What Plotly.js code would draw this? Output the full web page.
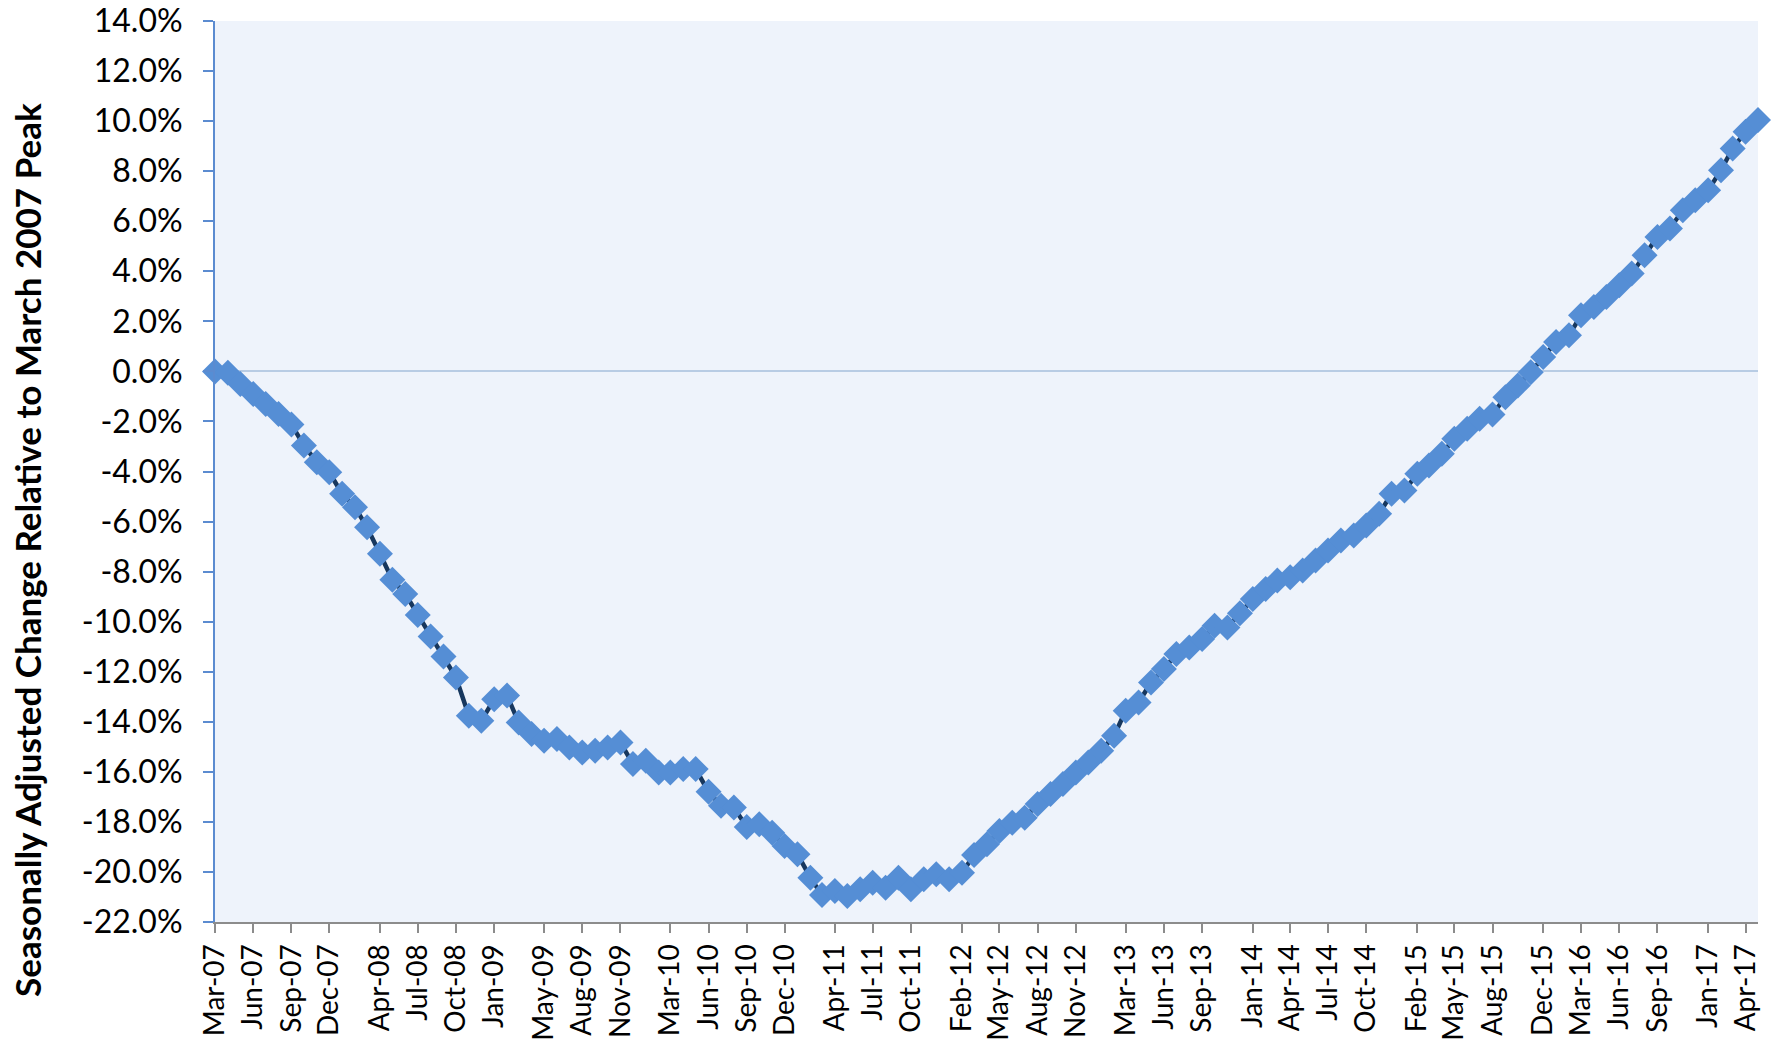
<!DOCTYPE html>
<html>
<head>
<meta charset="utf-8">
<script src="https://cdn.plot.ly/plotly-3.0.1.min.js"></script>
<style>html,body{margin:0;padding:0;background:#fff;}#chart{width:1777px;height:1042px;}</style>
</head>
<body>
<div id="chart"></div>
<script>
// Months (Mar-2007 .. May-2017)
const months = [
  "2007-03","2007-04","2007-05","2007-06","2007-07","2007-08","2007-09","2007-10","2007-11","2007-12",
  "2008-01","2008-02","2008-03","2008-04","2008-05","2008-06","2008-07","2008-08","2008-09","2008-10","2008-11","2008-12",
  "2009-01","2009-02","2009-03","2009-04","2009-05","2009-06","2009-07","2009-08","2009-09","2009-10","2009-11","2009-12",
  "2010-01","2010-02","2010-03","2010-04","2010-05","2010-06","2010-07","2010-08","2010-09","2010-10","2010-11","2010-12",
  "2011-01","2011-02","2011-03","2011-04","2011-05","2011-06","2011-07","2011-08","2011-09","2011-10","2011-11","2011-12",
  "2012-01","2012-02","2012-03","2012-04","2012-05","2012-06","2012-07","2012-08","2012-09","2012-10","2012-11","2012-12",
  "2013-01","2013-02","2013-03","2013-04","2013-05","2013-06","2013-07","2013-08","2013-09","2013-10","2013-11","2013-12",
  "2014-01","2014-02","2014-03","2014-04","2014-05","2014-06","2014-07","2014-08","2014-09","2014-10","2014-11","2014-12",
  "2015-01","2015-02","2015-03","2015-04","2015-05","2015-06","2015-07","2015-08","2015-09","2015-10","2015-11","2015-12",
  "2016-01","2016-02","2016-03","2016-04","2016-05","2016-06","2016-07","2016-08","2016-09","2016-10","2016-11","2016-12",
  "2017-01","2017-02","2017-03","2017-04","2017-05"
];

// Seasonally adjusted change relative to March 2007 peak (%)
const changePct = [
  0.00,-0.05,-0.50,-0.90,-1.30,-1.70,-2.12,-2.96,-3.63,-4.03,
  -4.89,-5.43,-6.23,-7.29,-8.33,-8.89,-9.73,-10.59,-11.39,-12.23,-13.76,-13.96,
  -13.10,-12.95,-14.03,-14.49,-14.76,-14.69,-15.03,-15.23,-15.16,-15.03,-14.83,-15.69,
  -15.56,-16.03,-16.03,-15.89,-15.89,-16.80,-17.36,-17.43,-18.20,-18.09,-18.43,-18.96,
  -19.29,-20.23,-20.92,-20.76,-20.96,-20.69,-20.43,-20.63,-20.23,-20.69,-20.29,-20.09,
  -20.29,-20.03,-19.32,-18.89,-18.36,-18.03,-17.83,-17.29,-16.89,-16.49,-16.03,-15.63,
  -15.16,-14.56,-13.56,-13.23,-12.43,-11.89,-11.29,-11.03,-10.69,-10.16,-10.23,-9.66,
  -9.09,-8.69,-8.36,-8.23,-7.96,-7.56,-7.16,-6.76,-6.56,-6.16,-5.69,-4.89,
  -4.76,-4.09,-3.76,-3.29,-2.69,-2.29,-1.89,-1.72,-1.03,-0.56,-0.03,0.57,
  1.17,1.44,2.24,2.57,2.97,3.44,3.91,4.64,5.37,5.71,6.44,6.84,
  7.24,8.04,8.91,9.57,10.04
];

// X tick labels shown on the axis
const xTickLabels = [
  "Mar-07","Jun-07","Sep-07","Dec-07","Apr-08","Jul-08","Oct-08","Jan-09","May-09","Aug-09",
  "Nov-09","Mar-10","Jun-10","Sep-10","Dec-10","Apr-11","Jul-11","Oct-11","Feb-12","May-12",
  "Aug-12","Nov-12","Mar-13","Jun-13","Sep-13","Jan-14","Apr-14","Jul-14","Oct-14","Feb-15",
  "May-15","Aug-15","Dec-15","Mar-16","Jun-16","Sep-16","Jan-17","Apr-17"
];

// Y tick values and labels
const yTickVals = [-22,-20,-18,-16,-14,-12,-10,-8,-6,-4,-2,0,2,4,6,8,10,12,14];
const yTickLabels = ["-22.0%","-20.0%","-18.0%","-16.0%","-14.0%","-12.0%","-10.0%","-8.0%","-6.0%","-4.0%","-2.0%","0.0%","2.0%","4.0%","6.0%","8.0%","10.0%","12.0%","14.0%"];

const monNames = {Jan:"01",Feb:"02",Mar:"03",Apr:"04",May:"05",Jun:"06",Jul:"07",Aug:"08",Sep:"09",Oct:"10",Nov:"11",Dec:"12"};
const xTickVals = xTickLabels.map(l => "20" + l.slice(4) + "-" + monNames[l.slice(0,3)] + "-01");
const xDates = months.map(m => m + "-01");

const FONT = "Lato, 'Open Sans', sans-serif";

const trace = {
  x: xDates,
  y: changePct,
  type: "scatter",
  mode: "lines+markers",
  cliponaxis: false,
  line: {color: "#17375E", width: 4.5},
  marker: {symbol: "diamond", size: 20, color: "#558ED5", line: {width: 0}},
  hoverinfo: "x+y"
};

const layout = {
  width: 1777,
  height: 1042,
  margin: {l: 215, r: 19, t: 21, b: 120},
  paper_bgcolor: "#ffffff",
  plot_bgcolor: "#EEF3FB",
  showlegend: false,
  font: {family: FONT, color: "#000000"},
  xaxis: {
    type: "date",
    range: [xDates[0], xDates[xDates.length - 1]],
    tickmode: "array",
    tickvals: xTickVals,
    ticktext: xTickLabels,
    tickangle: -90,
    tickfont: {family: FONT, size: 28, color: "#000"},
    ticks: "outside",
    ticklen: 9,
    tickwidth: 2,
    tickcolor: "#8C8C8C",
    showline: true,
    linecolor: "#8C8C8C",
    linewidth: 2,
    showgrid: false,
    zeroline: false
  },
  yaxis: {
    range: [-22, 14],
    tickmode: "array",
    tickvals: yTickVals,
    ticktext: yTickLabels,
    tickfont: {family: FONT, size: 32, color: "#000"},
    ticklabelstandoff: 14,
    ticks: "outside",
    ticklen: 10,
    tickwidth: 2,
    tickcolor: "#5B8BD0",
    showline: true,
    linecolor: "#5B8BD0",
    linewidth: 2,
    showgrid: false,
    zeroline: true,
    zerolinecolor: "#B8CCE4",
    zerolinewidth: 2
  },
  annotations: [{
    text: "<b>Seasonally Adjusted Change Relative to March 2007 Peak</b>",
    xref: "paper", yref: "paper",
    x: 0, y: 0.413,
    xshift: -188,
    xanchor: "center", yanchor: "middle",
    textangle: -90,
    showarrow: false,
    font: {family: FONT, size: 35, color: "#000"}
  }]
};

Plotly.newPlot("chart", [trace], layout, {displayModeBar: false, staticPlot: true});
</script>
</body>
</html>
